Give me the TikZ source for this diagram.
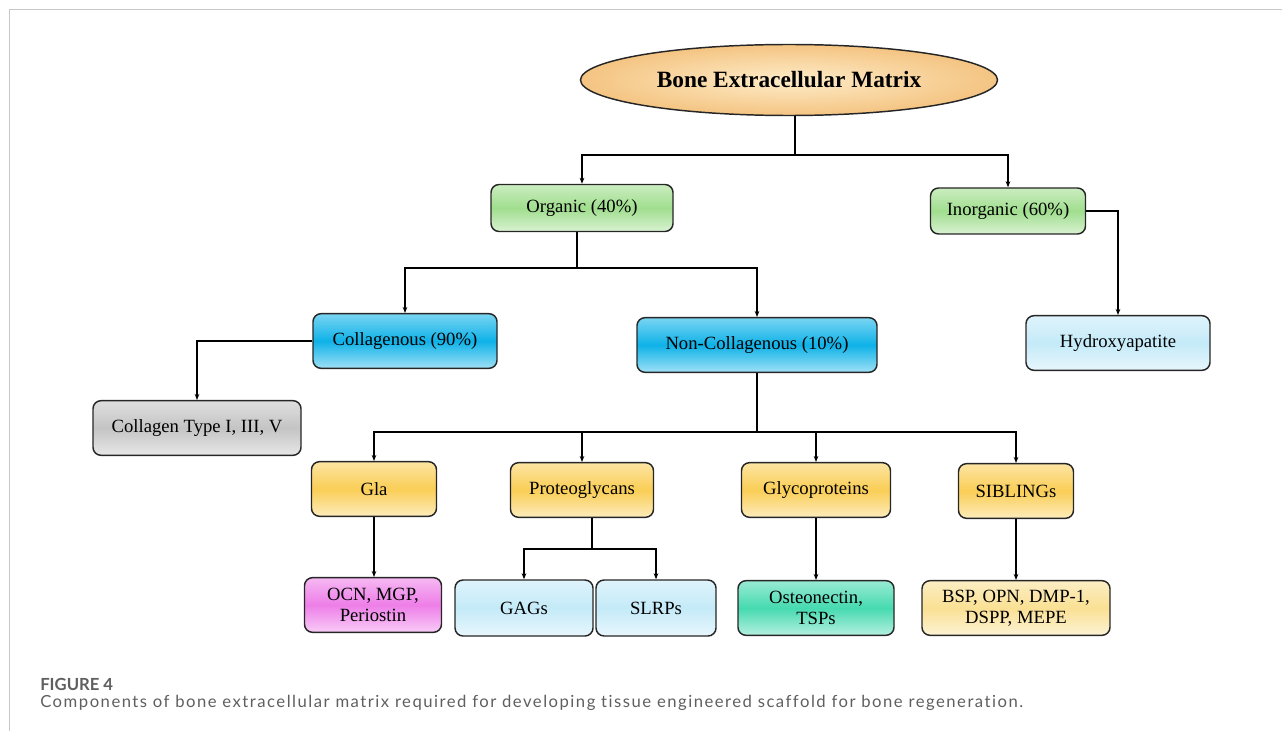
\documentclass[tikz,border=0pt]{standalone}
\usepackage{fontspec}
\setmainfont{Liberation Serif}
\newfontfamily\captionfont{Lato}
\newfontfamily\captiontextfont[LetterSpace=9,Ligatures=NoCommon]{Lato}
\usetikzlibrary{shapes.geometric,arrows.meta}

\definecolor{framegray}{RGB}{200,200,200}
\definecolor{captiongray}{RGB}{95,95,95}
\definecolor{peachin}{RGB}{254,236,200}
\definecolor{peachout}{RGB}{244,196,130}
\definecolor{leafgreen}{RGB}{160,222,142}
\definecolor{skycyan}{RGB}{14,178,232}
\definecolor{stonegray}{RGB}{196,196,196}
\definecolor{iceblue}{RGB}{196,234,248}
\definecolor{goldyellow}{RGB}{250,206,86}
\definecolor{orchidpink}{RGB}{238,126,232}
\definecolor{mintteal}{RGB}{70,218,176}
\definecolor{creamyellow}{RGB}{250,224,148}

\begin{document}
\begin{tikzpicture}[x=0.75pt,y=-0.75pt,
    box/.style={draw=black!85,line width=1.1pt,rounded corners=6pt,
      minimum height=41pt,inner sep=2pt,align=center,
      top color=#1!55!white,bottom color=#1!40!white,middle color=#1,
      font=\fontsize{14}{16}\selectfont},
    link/.style={line width=0.9pt},
    arr/.style={link,-{Stealth[length=4.5pt,width=3.5pt]}}]

  \useasboundingbox (0,0) rectangle (1282,731);

  % frame of the figure
  \draw[framegray,line width=1.1pt] (9.5,731) |- (1282,9.5);

  % root
  \node[ellipse,draw=black!85,line width=1.1pt,inner color=peachin,outer color=peachout,
    minimum width=312.75pt,minimum height=53.25pt,inner sep=0pt,
    font=\fontsize{17.5}{20}\selectfont\bfseries]
    (bem) at (789,80) {Bone Extracellular Matrix};

  % first level
  \node[box=leafgreen,minimum width=136.5pt,minimum height=35.25pt] (organic)   at (582,208)  {Organic (40\%)};
  \node[box=leafgreen,minimum width=116.25pt,minimum height=34.5pt] (inorganic) at (1008,211) {Inorganic (60\%)};

  % second level
  \node[box=skycyan,minimum width=138pt]    (collagenous)    at (405,341)  {Collagenous (90\%)};
  \node[box=skycyan,minimum width=180pt]    (noncollagenous) at (757,345)  {Non-Collagenous (10\%)};
  \node[box=iceblue,minimum width=138pt]    (hydroxy)        at (1118,343) {Hydroxyapatite};
  \node[box=stonegray,minimum width=156pt]  (collagentype)   at (197,428)  {Collagen Type I, III, V};

  % non-collagenous groups
  \node[box=goldyellow,minimum width=93.75pt]  (gla)      at (374,489)  {Gla};
  \node[box=goldyellow,minimum width=107.25pt] (proteo)   at (582,490)  {Proteoglycans};
  \node[box=goldyellow,minimum width=111.75pt] (glyco)    at (816,490)  {Glycoproteins};
  \node[box=goldyellow,minimum width=86.25pt]  (siblings) at (1016,491) {SIBLINGs};

  % members
  \node[box=orchidpink,minimum width=102.75pt]  (ocn)    at (373,605)  {OCN, MGP,\\Periostin};
  \node[box=iceblue,minimum width=103.5pt,minimum height=42pt] (gags)  at (524,608) {GAGs};
  \node[box=iceblue,minimum width=90pt,minimum height=42pt]    (slrps) at (656,608) {SLRPs};
  \node[box=mintteal,minimum width=117pt]    (osteo)  at (816,608)  {Osteonectin,\\TSPs};
  \node[box=creamyellow,minimum width=141pt] (bsp)    at (1016,608) {BSP, OPN, DMP-1,\\DSPP, MEPE};

  % connectors
  \coordinate (rootbus)   at (795,155);
  \coordinate (organbus)  at (577,268);
  \coordinate (noncolbus) at (757,432);
  \coordinate (proteobus) at (592,549);

  \draw[link] (rootbus |- bem.south) -- (rootbus);
  \draw[arr]  (rootbus) -| (organic.north);
  \draw[arr]  (rootbus) -| (inorganic.north);

  \draw[link] (organbus |- organic.south) -- (organbus);
  \draw[arr]  (organbus) -| (collagenous.north);
  \draw[arr]  (organbus) -| (noncollagenous.north);

  \draw[arr]  (collagenous.west) -| (collagentype.north);
  \draw[arr]  (inorganic.east) -| (hydroxy.north);

  \draw[link] (noncollagenous.south) -- (noncolbus);
  \draw[arr]  (noncolbus) -| (gla.north);
  \draw[arr]  (noncolbus) -| (proteo.north);
  \draw[arr]  (noncolbus) -| (glyco.north);
  \draw[arr]  (noncolbus) -| (siblings.north);

  \draw[arr]  (gla.south) -- (gla.south |- ocn.north);
  \draw[link] (proteobus |- proteo.south) -- (proteobus);
  \draw[arr]  (proteobus) -| (gags.north);
  \draw[arr]  (proteobus) -| (slrps.north);
  \draw[arr]  (glyco.south) -- (osteo.north);
  \draw[arr]  (siblings.south) -- (bsp.north);

  % caption
  \node[anchor=base west,inner sep=0pt,text=captiongray,font=\captionfont\fontsize{12.5}{14}\selectfont\bfseries]
    (figlabel) at (40,690) {FIGURE 4};
  \node[anchor=base west,inner sep=0pt,text=captiongray,font=\captiontextfont\fontsize{12.5}{14}\selectfont]
    (figcaption) at (40,707) {Components of bone extracellular matrix required for developing tissue engineered scaffold for bone regeneration.};
\end{tikzpicture}
\end{document}
